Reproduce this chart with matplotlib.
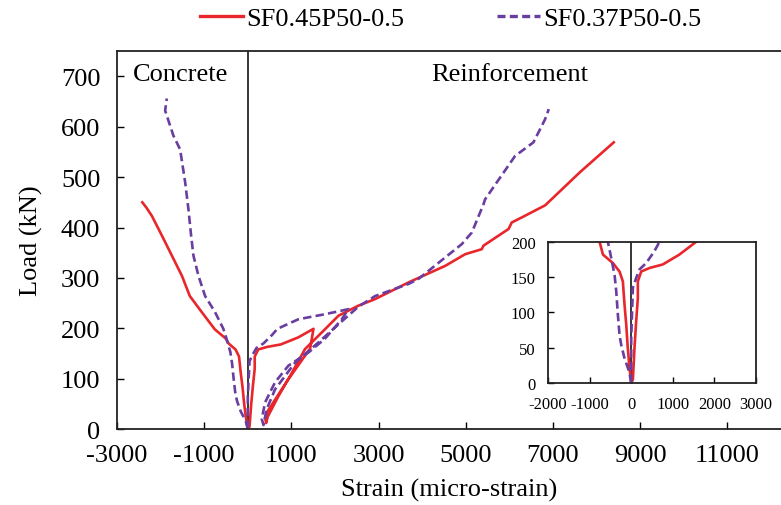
import matplotlib
matplotlib.use("Agg")
import matplotlib.pyplot as plt

plt.rcParams['font.family'] = ['Liberation Serif', 'DejaVu Serif']
plt.rcParams['axes.unicode_minus'] = False

# ---- main chart data (strain in micro-strain, load in kN) ----
red_conc_strain = [0, -48, -88, -120, -161, -201, -281, -441, -510, -757, -1055, -1330, -1510, -1740, -1970, -2200, -2330, -2420]
red_conc_load = [0, 26, 54, 83, 111, 144, 158, 170, 180, 198, 232, 264, 304, 344, 384, 423, 440, 450]

red_tens_strain = [0, 40, 79, 120, 159, 159, 240, 439, 758, 1158, 1507, 1430, 900, 436, 397, 420, 460,
                   700, 1000, 1314, 1700, 2080, 2539, 2920, 3686, 4530, 4985, 5367, 5406, 5980, 6055, 6284, 6820, 7622, 8394]
red_tens_load = [0, 5, 50, 88, 120, 144, 158, 163, 168, 182, 199, 160, 95, 33, 23, 12, 25,
                 65, 110, 159, 192, 225, 245, 258, 291, 324, 347, 357, 364, 397, 410, 420, 444, 510, 569]

pur_conc_strain = [0, -48, -161, -240, -281, -321, -360, -400, -480, -561, -750, -979, -1131, -1246, -1300, -1361, -1437, -1552, -1705, -1896, -1858]
pur_conc_load = [0, 16, 35, 54, 68, 97, 130, 153, 177, 199, 232, 264, 304, 344, 384, 436, 490, 555, 582, 632, 656]

pur_tens_strain = [0, 0, 40, 120, 199, 360, 559, 679, 1162, 1773, 2310, 2156, 1766, 1391, 933, 626, 397, 321, 360,
                   436, 626, 1085, 1620, 2080, 2539, 2920, 3686, 3915, 4908, 5138, 5406, 5443, 6131, 6552, 6820, 6904]
pur_tens_load = [0, 64, 135, 149, 161, 170, 187, 199, 218, 228, 238, 218, 179, 152, 126, 93, 53, 20, 8,
                 40, 79, 132, 172, 208, 243, 264, 288, 298, 367, 390, 446, 456, 542, 569, 615, 635]

# ---- inset data (first loading to 200 kN) ----
in_red_conc_strain = [0, -48, -88, -120, -161, -201, -281, -441, -680, -760]
in_red_conc_load = [0, 26, 54, 83, 111, 144, 158, 170, 182, 200]
in_red_tens_strain = [0, 40, 79, 120, 159, 159, 240, 439, 758, 1158, 1558]
in_red_tens_load = [0, 5, 50, 88, 120, 144, 158, 163, 168, 182, 200]
in_pur_conc_strain = [0, -48, -161, -240, -281, -321, -360, -400, -480, -561]
in_pur_conc_load = [0, 16, 35, 54, 68, 97, 130, 153, 177, 200]
in_pur_tens_strain = [0, 0, 40, 120, 199, 360, 559, 679]
in_pur_tens_load = [0, 64, 135, 149, 161, 170, 187, 200]

x_ticks = [-3000, -1000, 1000, 3000, 5000, 7000, 9000, 11000]
y_ticks = [0, 100, 200, 300, 400, 500, 600, 700]
inset_x_ticks = [-2000, -1000, 0, 1000, 2000, 3000]
inset_y_ticks = [0, 50, 100, 150, 200]

RED = '#e8262b'
PUR = '#6a3da0'
FS = 19

fig = plt.figure(figsize=(7.81, 5.06), dpi=100)
ax = fig.add_axes([0.1498, 0.150, 0.8502, 0.747])


def draw(a, rc, rt, pc, pt, lw):
    a.plot(rc[0], rc[1], color=RED, lw=lw, solid_joinstyle='round')
    a.plot(rt[0], rt[1], color=RED, lw=lw, solid_joinstyle='round')
    a.plot(pc[0], pc[1], color=PUR, lw=lw, dashes=(3.2, 1.6))
    a.plot(pt[0], pt[1], color=PUR, lw=lw, dashes=(3.2, 1.6))
    a.axvline(0, color='black', lw=1.1, zorder=0.5)


draw(ax, (red_conc_strain, red_conc_load), (red_tens_strain, red_tens_load),
     (pur_conc_strain, pur_conc_load), (pur_tens_strain, pur_tens_load), 1.9)
ax.set_xlim(-3000, 12230)
ax.set_ylim(0, 750)
ax.set_xticks(x_ticks)
ax.set_yticks(y_ticks)
ax.tick_params(direction='in', length=5, width=1, labelsize=FS, colors='black')
ax.tick_params(axis='x', pad=11)
ax.tick_params(axis='y', pad=12)
ax.spines['right'].set_visible(False)
for s in ['left', 'bottom', 'top']:
    ax.spines[s].set_linewidth(1.3)
    ax.spines[s].set_color('#222222')
ax.set_xlabel('Strain (micro-strain)', fontsize=FS, labelpad=8)
ax.set_ylabel('Load (kN)', fontsize=FS, labelpad=13)
ax.text(-1550, 705, 'Concrete', fontsize=FS, ha='center', va='center')
ax.text(6000, 705, 'Reinforcement', fontsize=FS, ha='center', va='center')

# legend
h1, = ax.plot([], [], color=RED, lw=2.4)
h2, = ax.plot([], [], color=PUR, lw=2.4, dashes=(2.4, 1.3))
fig.legend([h1, h2], ['SF0.45P50-0.5', 'SF0.37P50-0.5'], loc='center', bbox_to_anchor=(0.577, 0.962),
           ncol=2, frameon=False, fontsize=FS, handlelength=1.65, handletextpad=0.12, columnspacing=3.5)

# inset
ins = fig.add_axes([0.7017, 0.241, 0.2663, 0.279])
draw(ins, (in_red_conc_strain, in_red_conc_load), (in_red_tens_strain, in_red_tens_load),
     (in_pur_conc_strain, in_pur_conc_load), (in_pur_tens_strain, in_pur_tens_load), 1.9)
ins.set_xlim(-2000, 3000)
ins.set_ylim(0, 200)
ins.set_xticks(inset_x_ticks)
ins.set_yticks(inset_y_ticks)
ins.tick_params(direction='in', length=4, width=1, labelsize=12, pad=9)
for s in ins.spines.values():
    s.set_linewidth(1.3)
    s.set_color('#222222')

fig.savefig('out.png', dpi=100)
